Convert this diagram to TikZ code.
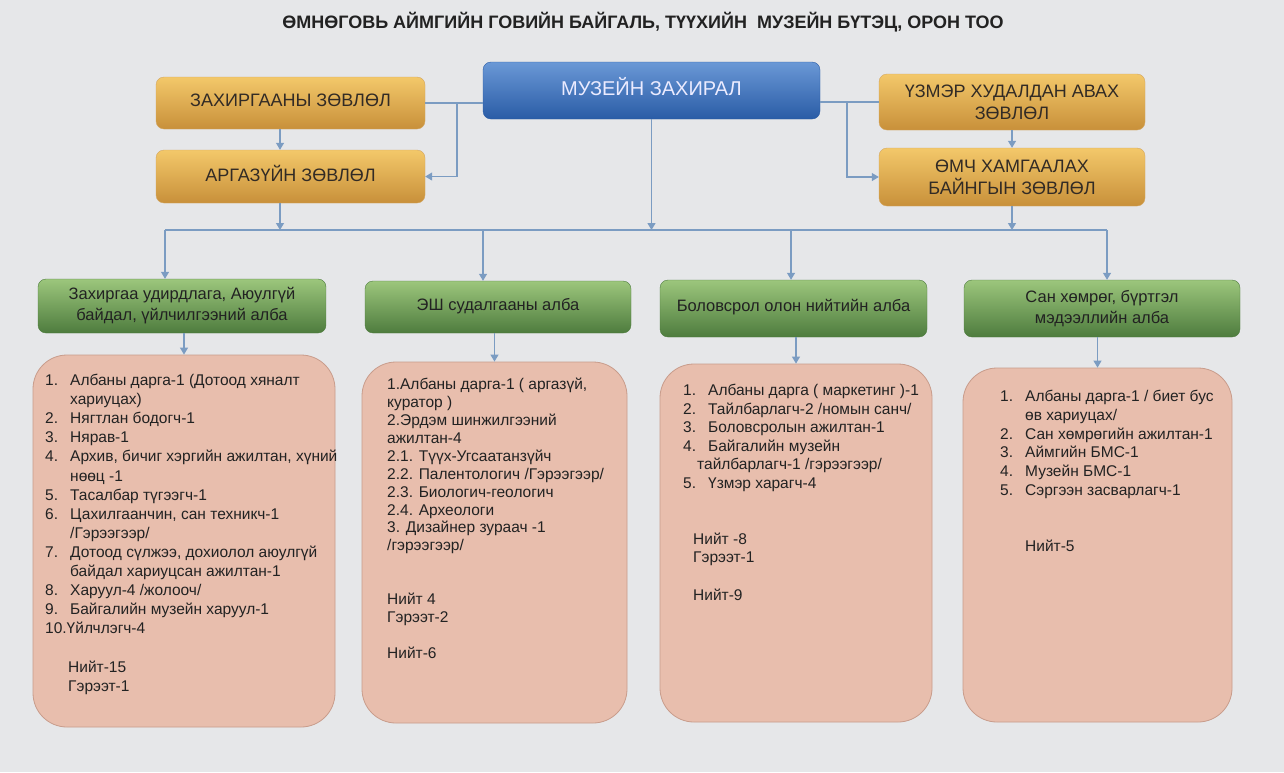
\documentclass[tikz,border=0pt]{standalone}
\usepackage{fontspec}
\setmainfont{Liberation Sans}
\usetikzlibrary{arrows.meta}
\definecolor{bgGray}{HTML}{E6E7E9}
\definecolor{lnBlue}{HTML}{7B9CC2}
\definecolor{goldTop}{HTML}{F3C86A}
\definecolor{goldBot}{HTML}{C8903A}
\definecolor{blueTop}{HTML}{6A98D6}
\definecolor{blueBot}{HTML}{2A5CA6}
\definecolor{grnTop}{HTML}{9CC67C}
\definecolor{grnBot}{HTML}{4E7C3E}
\definecolor{pinkBg}{HTML}{E8BEAD}
\definecolor{pinkLn}{HTML}{C89C8B}
\definecolor{txtDark}{HTML}{222222}
\newcommand{\lnum}[1]{\makebox[25pt][l]{#1}}

\begin{document}
\begin{tikzpicture}[
  x=1pt, y=-1pt,
  box/.style    ={rounded corners=8pt, align=center, inner sep=0pt},
  gold/.style   ={box, top color=goldTop, bottom color=goldBot, draw=goldBot!80,
                  text=txtDark!90!brown, font=\fontsize{18}{22}\selectfont},
  chief/.style  ={box, top color=blueTop, bottom color=blueBot, draw=blueBot,
                  text=white!92!blue, font=\fontsize{20}{24}\selectfont},
  unit/.style   ={box, top color=grnTop, bottom color=grnBot, draw=grnBot,
                  text=txtDark, font=\fontsize{16.5}{21}\selectfont},
  staff/.style  ={rounded corners=34pt, fill=pinkBg, draw=pinkLn, line width=0.8pt},
  list/.style   ={anchor=north west, align=left, inner sep=0pt, text=txtDark},
  line/.style   ={lnBlue, line width=1.2pt},
  arr/.style    ={line, -{Triangle[width=8pt,length=7pt]}}]
  \fill[bgGray] (0,0) rectangle (1284,772);
  \useasboundingbox (0,0) rectangle (1284,772);

  \node[font=\fontsize{18}{21}\selectfont\bfseries, text=txtDark] (title) at (643,22)
    {ӨМНӨГОВЬ АЙМГИЙН ГОВИЙН БАЙГАЛЬ, ТҮҮХИЙН\ \ МУЗЕЙН БҮТЭЦ, ОРОН ТОО};

  % top level
  \node[chief, minimum width=337pt, minimum height=57pt] (dir) at (651.5,90.5)
    {\raisebox{8pt}{МУЗЕЙН ЗАХИРАЛ}};
  \node[gold, minimum width=269pt, minimum height=52pt] (zah) at (290.5,103)
    {\raisebox{5pt}{ЗАХИРГААНЫ ЗӨВЛӨЛ}};
  \node[gold, minimum width=269pt, minimum height=53pt] (arg) at (290.5,176.5)
    {\raisebox{6pt}{АРГАЗҮЙН ЗӨВЛӨЛ}};
  \node[gold, minimum width=266pt, minimum height=56pt] (ust) at (1012,102)
    {ҮЗМЭР ХУДАЛДАН АВАХ\\ЗӨВЛӨЛ};
  \node[gold, minimum width=266pt, minimum height=58pt] (omch) at (1012,177)
    {ӨМЧ ХАМГААЛАХ\\БАЙНГЫН ЗӨВЛӨЛ};

  % units
  \node[unit, minimum width=288pt, minimum height=54pt] (g1) at (182,306)
    {Захиргаа удирдлага, Аюулгүй\\байдал, үйлчилгээний алба};
  \node[unit, minimum width=266pt, minimum height=52pt] (g2) at (498,307)
    {\raisebox{6pt}{ЭШ судалгааны алба}};
  \node[unit, minimum width=267pt, minimum height=57pt] (g3) at (793.5,308.5)
    {\raisebox{7pt}{Боловсрол олон нийтийн алба}};
  \node[unit, minimum width=276pt, minimum height=57pt] (g4) at (1102,308.5)
    {Сан хөмрөг, бүртгэл\\мэдээллийн алба};

  % staff boxes
  \node[staff, minimum width=302pt, minimum height=372pt] (p1) at (184,541) {};
  \node[staff, minimum width=265pt, minimum height=361pt] (p2) at (494.5,542.5) {};
  \node[staff, minimum width=272pt, minimum height=358pt] (p3) at (796,543) {};
  \node[staff, minimum width=269pt, minimum height=354pt] (p4) at (1097.5,545) {};

  \node[list, font=\fontsize{15.5}{19.1}\selectfont] (l1) at (45,374)
    {\lnum{1.}Албаны дарга-1 (Дотоод хяналт\\
     \lnum{}хариуцах)\\
     \lnum{2.}Нягтлан бодогч-1\\
     \lnum{3.}Нярав-1\\
     \lnum{4.}Архив, бичиг хэргийн ажилтан, хүний\\
     \lnum{}нөөц -1\\
     \lnum{5.}Тасалбар түгээгч-1\\
     \lnum{6.}Цахилгаанчин, сан техникч-1\\
     \lnum{}/Гэрээгээр/\\
     \lnum{7.}Дотоод сүлжээ, дохиолол аюулгүй\\
     \lnum{}байдал хариуцсан ажилтан-1\\
     \lnum{8.}Харуул-4 /жолооч/\\
     \lnum{9.}Байгалийн музейн харуул-1\\
     10.Үйлчлэгч-4\\[19.1pt]
     \hspace*{23pt}Нийт-15\\
     \hspace*{23pt}Гэрээт-1};
  \node[list, font=\fontsize{15.5}{17.9}\selectfont] (l2) at (387,378)
    {1.Албаны дарга-1 ( аргазүй,\\
     куратор )\\
     2.Эрдэм шинжилгээний\\
     ажилтан-4\\
     2.1. Түүх-Угсаатанзүйч\\
     2.2. Палентологич /Гэрээгээр/\\
     2.3. Биологич-геологич\\
     2.4. Археологи\\
     3. Дизайнер зураач -1\\
     /гэрээгээр/\\[35.8pt]
     Нийт 4\\
     Гэрээт-2\\[17.9pt]
     Нийт-6};
  \node[list, font=\fontsize{15.5}{18.6}\selectfont] (l3) at (683,384)
    {\lnum{1.}Албаны дарга ( маркетинг )-1\\
     \lnum{2.}Тайлбарлагч-2 /номын санч/\\
     \lnum{3.}Боловсролын ажилтан-1\\
     \lnum{4.}Байгалийн музейн\\
     \hspace*{14pt}тайлбарлагч-1 /гэрээгээр/\\
     \lnum{5.}Үзмэр харагч-4\\[37.2pt]
     \hspace*{10pt}Нийт -8\\
     \hspace*{10pt}Гэрээт-1\\[18.6pt]
     \hspace*{10pt}Нийт-9};
  \node[list, font=\fontsize{15.5}{18.8}\selectfont] (l4) at (1000,390)
    {\lnum{1.}Албаны дарга-1 / биет бус\\
     \lnum{}өв хариуцах/\\
     \lnum{2.}Сан хөмрөгийн ажилтан-1\\
     \lnum{3.}Аймгийн БМС-1\\
     \lnum{4.}Музейн БМС-1\\
     \lnum{5.}Сэргээн засварлагч-1\\[37.6pt]
     \lnum{}Нийт-5};

  % connectors
  \coordinate (jl) at (457,0);
  \coordinate (jr) at (847,0);
  \coordinate (a0) at (280,0);
  \coordinate (d1) at (165,230);
  \coordinate (d2) at (483,230);
  \coordinate (d3) at (791,230);
  \coordinate (d4) at (1107,230);
  \draw[line] (dir.west |- zah.east) -- (zah.east);
  \draw[arr] (jl |- zah.east) |- (arg.east);
  \draw[line] (dir.east |- ust.west) -- (ust.west);
  \draw[arr] (jr |- ust.west) |- (omch.west);
  \draw[arr] (a0 |- zah.south) -- (a0 |- arg.north);
  \draw[arr] (ust.south) -- (omch.north);
  \draw[line] (d1) -- (d4);
  \draw[arr] (a0 |- arg.south) -- (a0 |- d1);
  \draw[arr] (dir.south) -- (dir.south |- d1);
  \draw[arr] (omch.south) -- (omch.south |- d1);
  \draw[arr] (d1) -- (d1 |- g1.north);
  \draw[arr] (d2) -- (d2 |- g2.north);
  \draw[arr] (d3) -- (d3 |- g3.north);
  \draw[arr] (d4) -- (d4 |- g4.north);
  \draw[arr] (g1.south -| p1.north) -- (p1.north);
  \draw[arr] (g2.south -| p2.north) -- (p2.north);
  \draw[arr] (g3.south -| p3.north) -- (p3.north);
  \draw[arr] (g4.south -| p4.north) -- (p4.north);
\end{tikzpicture}
\end{document}
